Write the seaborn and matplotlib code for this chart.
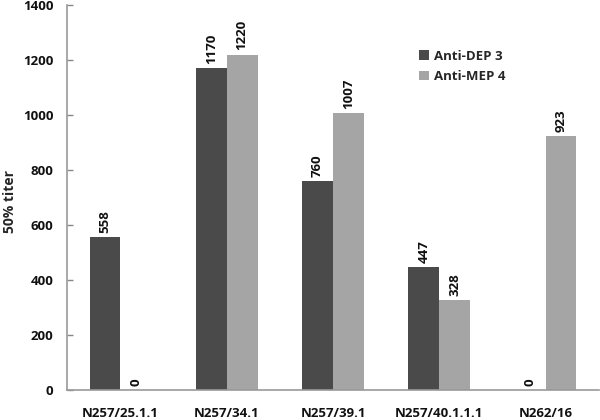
import matplotlib
matplotlib.use("Agg")
import matplotlib.pyplot as plt
import seaborn as sns
import pandas as pd
import numpy as np

categories = ["N257/25.1.1", "N257/34.1", "N257/39.1", "N257/40.1.1.1", "N262/16"]
anti_dep3 = [558, 1170, 760, 447, 0]
anti_mep4 = [0, 1220, 1007, 328, 923]
series_names = ["Anti-DEP 3", "Anti-MEP 4"]
yticks = [0, 200, 400, 600, 800, 1000, 1200, 1400]

df = pd.DataFrame({
    "cat": categories * 2,
    "val": anti_dep3 + anti_mep4,
    "series": [series_names[0]] * len(categories) + [series_names[1]] * len(categories),
})

sns.set_style("white")
plt.rcParams['font.family'] = ['Open Sans', 'DejaVu Sans']
plt.rcParams['font.weight'] = 'bold'

fig = plt.figure(figsize=(6, 4.2), dpi=100)
ax = fig.add_axes([0.112, 0.071, 0.886, 0.917])

palette = {series_names[0]: "#4a4a4a", series_names[1]: "#a5a5a5"}
sns.barplot(data=df, x="cat", y="val", hue="series", palette=palette,
            width=0.58, ax=ax, saturation=1, edgecolor="none")

ax.set_ylim(0, 1400)
ax.set_yticks(yticks)
ax.set_yticklabels([str(t) for t in yticks], fontsize=9.5, fontweight='bold', color='#111111')
ax.set_xlim(-0.5, len(categories) - 0.5)
ax.set_xticks(range(len(categories)))
ax.set_xticklabels(categories, fontsize=9.5, fontweight='bold', color='#111111')
ax.tick_params(axis='x', length=0, pad=12)
ax.set_xticks(np.arange(0.5, len(categories) - 0.5, 1.0), minor=True)
ax.tick_params(axis='x', which='minor', direction='in', length=5, color='#888888', width=1)
ax.tick_params(axis='y', direction='in', length=4, color='#888888', width=1, pad=10, left=True)
ax.set_xlabel("")
ax.set_ylabel("50% titer", fontsize=10, fontweight='bold')
ax.yaxis.set_label_coords(-0.095, 0.49)

for s in ["top", "right"]:
    ax.spines[s].set_visible(False)
for s in ["left", "bottom"]:
    ax.spines[s].set_color("#999999")
    ax.spines[s].set_linewidth(1.2)

for cont in ax.containers:
    labels = [f"{int(v)}" for v in cont.datavalues]
    ax.bar_label(cont, labels=labels, rotation=90, padding=3, fontsize=9.5, fontweight='bold', color='#111111')

leg = ax.legend(loc='upper left', bbox_to_anchor=(0.64, 0.915), frameon=False,
                handlelength=0.7, handleheight=0.7, handletextpad=0.4,
                labelspacing=0.55, prop={'weight': 'bold', 'size': 9.5})

fig.savefig("out.png", dpi=100)
